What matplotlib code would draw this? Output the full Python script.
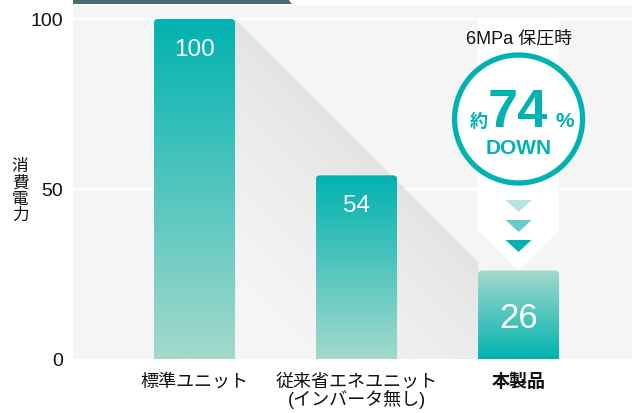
import numpy as np
import matplotlib.pyplot as plt
from matplotlib.patches import Polygon, FancyBboxPatch, Ellipse
from matplotlib.colors import LinearSegmentedColormap

plt.rcParams['font.family'] = ['Liberation Sans', 'Noto Sans CJK JP']

categories = ['標準ユニット', '従来省エネユニット\n(インバータ無し)', '本製品']
values = [100, 54, 26]
yticks = [0, 50, 100]
ylabel = '消費電力'
badge_condition = '6MPa 保圧時'
badge_prefix = '約'
badge_number = '74'
badge_unit = '%'
badge_word = 'DOWN'

TEAL = '#00b2b0'
MINT = '#a4d9cc'
BG = '#f5f5f5'

W, H = 632, 414
fig = plt.figure(figsize=(W / 100, H / 100), dpi=100)
ax = fig.add_axes([73 / W, 54 / H, 559 / W, 354 / H])
ax.set_facecolor(BG)
XLIM = (-0.75, 2.70)
YLIM = (0, 104.1)
ax.set_xlim(*XLIM)
ax.set_ylim(*YLIM)
for s in ax.spines.values():
    s.set_visible(False)

# pixels per data unit
px_x = 559 / (XLIM[1] - XLIM[0])
px_y = 354 / (YLIM[1] - YLIM[0])

for y in yticks[1:]:
    ax.axhline(y, color='white', lw=1.6, zorder=1)

x = np.arange(len(values))
bars = ax.bar(x, values, width=0.5, color='none', linewidth=0, zorder=3)

# long diagonal shadow from first bar to the last one
x0 = bars[0].get_x() + bars[0].get_width()
x1 = bars[2].get_x()
y_end = values[0] - (x1 - x0) * px_x / px_y
shadow = Polygon([(x0, values[0]), (x1, y_end), (x1, 0), (x0, 0)],
                 closed=True, facecolor='none', edgecolor='none')
ax.add_patch(shadow)
gx, gy = np.meshgrid(np.linspace(x0, x1, 300), np.linspace(0, values[0], 300))
d = ((values[0] - gy) * px_y - (gx - x0) * px_x) / np.sqrt(2)
t = np.clip(d / 180, 0, 1) ** 0.8
g = 0.89 + (0.961 - 0.89) * t
img = np.dstack([g, g, g])
im = ax.imshow(img, extent=(x0, x1, 0, values[0]), origin='lower',
               aspect='auto', zorder=1.5, interpolation='bilinear')
im.set_clip_path(shadow)

# white arrow band behind badge
hw = bars[2].get_width() / 2
tip = values[2]
band = Polygon([(2 - hw, 100), (2 + hw, 100), (2 + hw, tip + hw * px_x / px_y),
                (2, tip), (2 - hw, tip + hw * px_x / px_y)],
               closed=True, facecolor='white', edgecolor='none', zorder=2)
ax.add_patch(band)

# gradient bars with rounded tops
up = LinearSegmentedColormap.from_list('up', [MINT, TEAL])
down = LinearSegmentedColormap.from_list('down', [TEAL, MINT])
grad = np.linspace(0, 1, 256).reshape(-1, 1)
r = 4 / px_x
for i, b in enumerate(bars):
    bx, bw, bh = b.get_x(), b.get_width(), b.get_height()
    clip = FancyBboxPatch((bx, -10), bw, bh + 10,
                          boxstyle=f'round,pad=0,rounding_size={r}',
                          mutation_aspect=px_x / px_y,
                          facecolor='none', edgecolor='none', transform=ax.transData)
    ax.add_patch(clip)
    cm = up if i < 2 else down
    bi = ax.imshow(grad, extent=(bx, bx + bw, 0, bh), origin='lower',
                   aspect='auto', cmap=cm, zorder=3)
    bi.set_clip_path(clip)

for i, v in enumerate(values):
    if i < 2:
        ax.annotate(str(v), (i, v), xytext=(0, -30), textcoords='offset pixels',
                    ha='center', va='center', color='white', fontsize=17.5, zorder=5)
    else:
        ax.annotate(str(v), (i, v), xytext=(0, -47), textcoords='offset pixels',
                    ha='center', va='center', color='white', fontsize=25, zorder=5)

# badge
ax.text(2, (360 - 39) / px_y, badge_condition, ha='center', va='center',
        fontsize=13, color='#111111', zorder=5)
ax.add_patch(Ellipse((2, (360 - 120) / px_y), 128 / px_x, 128 / px_y,
                     facecolor='white', edgecolor=TEAL, lw=3.8, zorder=4))
base = (360 - 127) / px_y
ax.text(1.755, base, badge_prefix, ha='center', va='baseline', fontsize=13,
        fontweight='bold', color=TEAL, zorder=5)
ax.text(1.997, base, badge_number, ha='center', va='baseline', fontsize=39,
        fontweight='bold', color=TEAL, zorder=5)
ax.text(2.285, base, badge_unit, ha='center', va='baseline', fontsize=15,
        fontweight='bold', color=TEAL, zorder=5)
ax.text(2, (360 - 149) / px_y, badge_word, ha='center', va='center', fontsize=15,
        fontweight='bold', color=TEAL, zorder=5)

for py, c in zip([207, 227, 247], ['#b2e5e4', '#66cccb', TEAL]):
    yc = (360 - py) / px_y
    ax.add_patch(Polygon([(2 - 13 / px_x, yc + 6 / px_y), (2 + 13 / px_x, yc + 6 / px_y),
                          (2, yc - 6 / px_y)], closed=True, facecolor=c,
                         edgecolor='none', zorder=4))

ax.set_xlim(*XLIM)
ax.set_ylim(*YLIM)
ax.set_yticks(yticks)
ax.set_xticks(x, categories)
xl = ax.get_xticklabels()
xl[2].set_fontweight('bold')
xl[1].set_linespacing(0.95)
ax.tick_params(axis='y', length=0, pad=7, labelsize=14, labelcolor='#111111')
ax.tick_params(axis='x', length=0, pad=10, labelsize=13, labelcolor='#111111')

fig.text(20 / W, 1 - 191 / H, '\n'.join(ylabel), ha='center', va='center',
         fontsize=12, linespacing=1.1, color='#111111')

fig.add_artist(Polygon([(73 / W, 1), (288 / W, 1), (292 / W, 1 - 5 / H), (73 / W, 1 - 5 / H)],
                       closed=True, facecolor='#4b6a73', edgecolor='none',
                       transform=fig.transFigure))

fig.savefig('out.png', dpi=100)
